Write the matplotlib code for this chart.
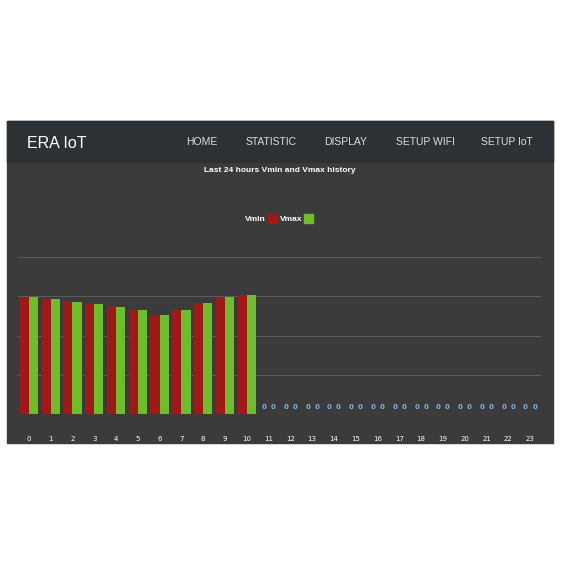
import matplotlib
matplotlib.use("Agg")
import matplotlib.pyplot as plt
from matplotlib.patches import Rectangle
import numpy as np

hours = list(range(24))
vmin = [2.99, 2.93, 2.87, 2.81, 2.74, 2.65, 2.53, 2.65, 2.84, 2.99, 3.03] + [0]*13
vmax = [2.98, 2.92, 2.86, 2.80, 2.73, 2.64, 2.52, 2.64, 2.83, 2.98, 3.02] + [0]*13
nav_items = ["HOME", "STATISTIC", "DISPLAY", "SETUP WIFI", "SETUP IoT"]

W = H = 565
fig = plt.figure(figsize=(5.65, 5.65), dpi=100, facecolor="white")

def fx(x): return x / W
def fy(y): return 1 - y / H

fig.patches.append(Rectangle((fx(7), fy(443)), fx(553) - fx(7), fy(121) - fy(443),
                             transform=fig.transFigure, color="#3b3b3b", zorder=0))
fig.patches.append(Rectangle((fx(7), fy(162)), fx(553) - fx(7), fy(121) - fy(162),
                             transform=fig.transFigure, color="#2c3136", zorder=1))
fig.text(fx(27), fy(143), "ERA IoT", color="white", fontsize=11.5, va="center",
         family="Liberation Sans")
for x, t in zip([202, 271, 346, 425, 507], nav_items):
    fig.text(fx(x), fy(142), t, color="#dddddd", fontsize=7.5, va="center", ha="center",
             family="Liberation Sans")
fig.text(fx(280), fy(171), "Last 24 hours Vmin and Vmax history", color="white",
         fontsize=6, ha="center", va="center", weight="bold", family="Liberation Sans")
fig.text(fx(266), fy(220), "Vmin", color="white", fontsize=6, ha="right", va="center",
         weight="bold", family="Liberation Sans")
fig.patches.append(Rectangle((fx(268), fy(223)), fx(9), fx(9), transform=fig.transFigure,
                             color="#a01818", zorder=2))
fig.text(fx(280), fy(220), "Vmax", color="white", fontsize=6, ha="left", va="center",
         weight="bold", family="Liberation Sans")
fig.patches.append(Rectangle((fx(304), fy(223)), fx(9), fx(9), transform=fig.transFigure,
                             color="#6cbf2a", zorder=2))

ax = fig.add_axes([fx(18), fy(414), fx(541) - fx(18), fy(257) - fy(414)])
ax.set_zorder(5)
ax.set_facecolor("none")
x = np.arange(24)
w = 0.42
ax.bar(x - w / 2, vmin, w, color="#a01818")
ax.bar(x + w / 2, vmax, w, color="#6cbf2a")
for i in x:
    if vmin[i] == 0:
        ax.text(i - w / 2, 0.17, "0", color="#7fb2e6", fontsize=5, ha="center", va="center", weight="bold")
        ax.text(i + w / 2, 0.17, "0", color="#7fb2e6", fontsize=5, ha="center", va="center", weight="bold")
ax.set_xlim(-0.5, 23.5)
ax.set_ylim(0, 4)
ax.set_yticks([0, 1, 2, 3, 4])
ax.grid(axis="y", color="#5a5a5a", linewidth=0.8)
ax.set_axisbelow(True)
ax.tick_params(axis="y", left=False, labelleft=False)
ax.tick_params(axis="x", bottom=False, colors="white", labelsize=5, pad=12)
ax.set_xticks(x)
ax.set_xticklabels([str(h) for h in hours])
for s in ax.spines.values():
    s.set_visible(False)

fig.savefig("out.png", dpi=100, facecolor="white")
